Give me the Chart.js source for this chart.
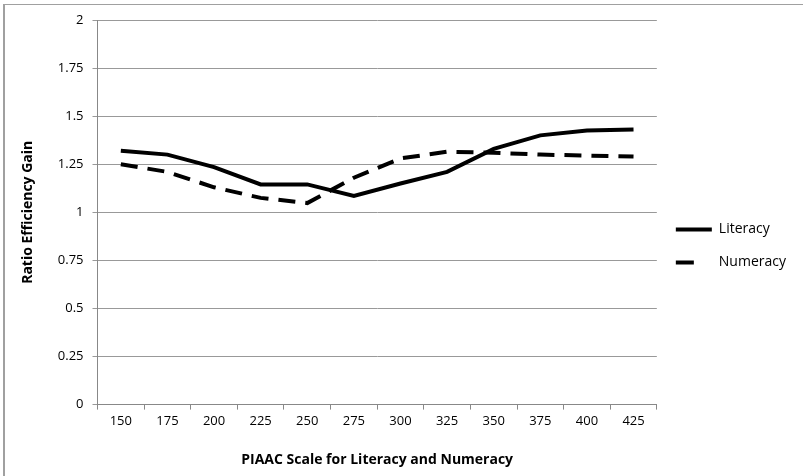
<!DOCTYPE html>
<html>
<head>
<meta charset="utf-8">
<script src="https://cdn.jsdelivr.net/npm/chart.js@4/dist/chart.umd.min.js"></script>
<style>
  body { margin: 0; background: #fff; }
  #wrap { position: relative; width: 803px; height: 476px; }
  #frame { position: absolute; left: 3px; top: 4px; width: 820px; height: 500px;
           border-left: 2px solid #a0a0a0; border-top: 1px solid #a0a0a0; }
  canvas { position: absolute; left: 0; top: 0; }
</style>
</head>
<body>
<div id="wrap">
  <div id="frame"></div>
  <canvas id="chart" width="803" height="476"></canvas>
</div>
<script>
// PIAAC scale points (x axis categories)
const scalePoints = ["150", "175", "200", "225", "250", "275", "300", "325", "350", "375", "400", "425"];

// Ratio efficiency gain
const literacy = [1.32, 1.30, 1.235, 1.145, 1.145, 1.085, 1.15, 1.21, 1.33, 1.40, 1.425, 1.43];
const numeracy = [1.25, 1.21, 1.13, 1.075, 1.048, 1.18, 1.28, 1.315, 1.31, 1.30, 1.295, 1.29];

const font = "'Open Sans', sans-serif";

// legend swatch dash patterns (numeracy shows a single dash)
const legendDash = [[], [18, 18]];

new Chart(document.getElementById("chart"), {
  type: "line",
  data: {
    labels: scalePoints,
    datasets: [
      {
        label: "Literacy",
        data: literacy,
        borderColor: "#000",
        backgroundColor: "#000",
        borderWidth: 4,
        pointRadius: 0,
        tension: 0,
      },
      {
        label: "Numeracy",
        data: numeracy,
        borderColor: "#000",
        backgroundColor: "#000",
        borderWidth: 4,
        borderDash: [17, 10],
        pointRadius: 0,
        tension: 0,
      },
    ],
  },
  options: {
    responsive: false,
    animation: false,
    layout: { padding: { top: 20, right: 7, left: 16, bottom: 4 } },
    plugins: {
      tooltip: { enabled: false },
      legend: {
        position: "right",
        labels: {
          usePointStyle: true,
          pointStyle: "line",
          pointStyleWidth: 36,
          boxHeight: 4,
          color: "#000",
          padding: 19,
          font: { family: font, size: 14 },
          generateLabels: (chart) => {
            const items = Chart.defaults.plugins.legend.labels.generateLabels(chart);
            items.forEach((item, i) => {
              item.lineDash = legendDash[i];
              item.lineWidth = 4;
              item.strokeStyle = "#000";
            });
            return items;
          },
        },
      },
    },
    scales: {
      x: {
        offset: true,
        grid: { offset: true, drawOnChartArea: false, drawTicks: true, tickLength: 5, color: "#888" },
        border: { color: "#888" },
        ticks: { color: "#000", font: { family: font, size: 13 }, padding: 4 },
        title: { display: true, text: "PIAAC Scale for Literacy and Numeracy", color: "#000",
                 font: { family: font, size: 14, weight: "bold" }, padding: { top: 18 } },
      },
      y: {
        min: 0,
        max: 2,
        ticks: {
          stepSize: 0.25, color: "#000", font: { family: font, size: 13 }, padding: 9,
          callback: (v) => String(+v.toFixed(2)),
        },
        grid: { color: "#999", tickLength: 5 },
        border: { color: "#888" },
        title: { display: true, text: "Ratio Efficiency Gain", color: "#000",
                 font: { family: font, size: 14, weight: "bold" }, padding: { bottom: 12 } },
      },
    },
  },
});
</script>
</body>
</html>
